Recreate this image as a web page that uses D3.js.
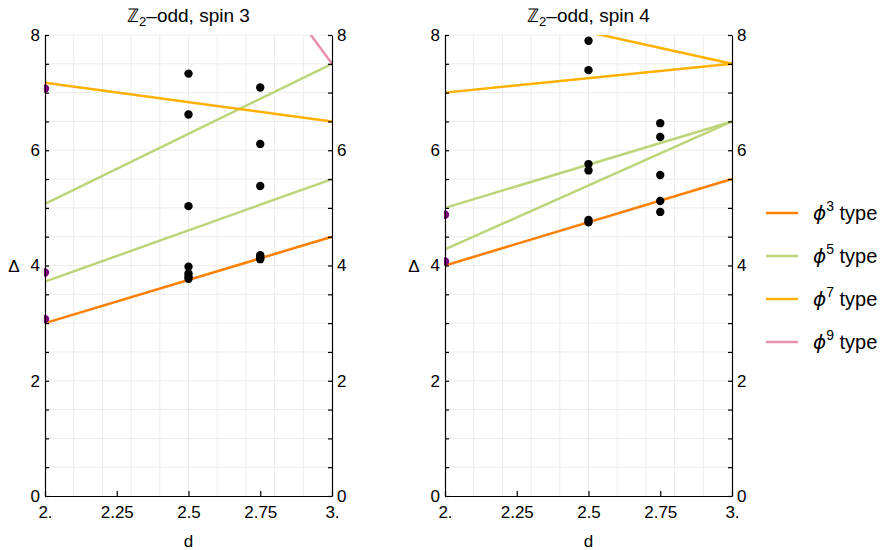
<!DOCTYPE html>
<html>
<head>
<meta charset="utf-8">
<script src="https://cdn.jsdelivr.net/npm/d3@7"></script>
<style>
  body { margin: 0; background: #fff; }
  svg { font-family: "Liberation Sans", Arial, sans-serif; }
</style>
</head>
<body>
<svg id="chart" width="889" height="550"></svg>
<script>
// Data
var typeNames = ["3", "5", "7", "9"];           // phi^n type
var typeColors = ["#ff7f00", "#bcd47a", "#ffb000", "#e890ae"];

var xTicks = [2, 2.25, 2.5, 2.75, 3];
var xTickLabels = ["2.", "2.25", "2.5", "2.75", "3."];
var yLabelTicks = [0, 2, 4, 6, 8];

// lines: [type index, d start, Δ start, d end, Δ end]
var spin3Lines = [
    [0, 2, 3.0, 3, 4.5],
    [1, 2, 3.72, 3, 5.5],
    [1, 2, 5.07, 3, 7.5],
    [2, 2, 7.17, 3, 6.5],
    [3, 2.9, 8.18, 3, 7.5]
];
var spin4Lines = [
    [0, 2, 4.0, 3, 5.5],
    [1, 2, 5.0, 3, 6.5],
    [1, 2, 4.28, 3, 6.5],
    [2, 2, 7.0, 3, 7.5],
    [2, 2.5, 8.05, 3, 7.5]
];

// purple points at d = 2
var spin3Free = [3.07, 3.88, 7.07];
var spin4Free = [4.07, 4.88];

// black points at d = 2.5 and d = 2.75
var spin3At25 = [7.33, 6.62, 5.03, 3.98, 3.86, 3.81, 3.77];
var spin3At275 = [7.09, 6.11, 5.38, 4.18, 4.14, 4.11];
var spin4At25 = [7.90, 7.39, 5.76, 5.65, 4.79, 4.75];
var spin4At275 = [6.47, 6.23, 5.57, 5.12, 4.93];

var panels = [
    { title: "spin 3", x0: 45, lines: spin3Lines, free: spin3Free, p25: spin3At25, p275: spin3At275 },
    { title: "spin 4", x0: 445, lines: spin4Lines, free: spin4Free, p25: spin4At25, p275: spin4At275 }
];

var plotW = 287;
var plotTop = 35, plotBottom = 496;

var svg = d3.select("#chart");

var yScale = d3.scaleLinear().domain([0, 8]).range([plotBottom, plotTop]);

panels.forEach(function(p, i) {
    var xScale = d3.scaleLinear().domain([2, 3]).range([p.x0, p.x0 + plotW]);
    var g = svg.append("g");

    var clipId = "clip" + i;
    svg.append("defs").append("clipPath").attr("id", clipId)
        .append("rect")
        .attr("x", p.x0 - 1).attr("y", plotTop)
        .attr("width", plotW + 2).attr("height", plotBottom - plotTop);

    // grid
    g.append("g").selectAll("line")
        .data(d3.range(1, 10).map(k => 2 + k / 10))
        .join("line")
        .attr("x1", d => xScale(d)).attr("x2", d => xScale(d))
        .attr("y1", plotTop).attr("y2", plotBottom)
        .attr("stroke", "#ececec").attr("stroke-width", 1);
    g.append("g").selectAll("line")
        .data(d3.range(1, 17).map(k => k / 2))
        .join("line")
        .attr("x1", xScale(2)).attr("x2", xScale(3))
        .attr("y1", d => yScale(d)).attr("y2", d => yScale(d))
        .attr("stroke", "#ececec").attr("stroke-width", 1);

    var plot = g.append("g").attr("clip-path", "url(#" + clipId + ")");

    var line = d3.line()
        .x(d => xScale(d[0]))
        .y(d => yScale(d[1]));

    plot.selectAll("path")
        .data(p.lines)
        .join("path")
        .attr("fill", "none")
        .attr("stroke", d => typeColors[d[0]])
        .attr("stroke-width", 2.5)
        .attr("d", d => line([[d[1], d[2]], [d[3], d[4]]]));

    var pts = p.p25.map(v => [2.5, v]).concat(p.p275.map(v => [2.75, v]));
    plot.selectAll("circle.black")
        .data(pts)
        .join("circle")
        .attr("class", "black")
        .attr("cx", d => xScale(d[0]))
        .attr("cy", d => yScale(d[1]))
        .attr("r", 4.2)
        .attr("fill", "#000");

    plot.selectAll("circle.free")
        .data(p.free)
        .join("circle")
        .attr("class", "free")
        .attr("cx", xScale(2))
        .attr("cy", d => yScale(d))
        .attr("r", 4.2)
        .attr("fill", "#800080");

    // axes
    var fmt = d => yLabelTicks.indexOf(d) >= 0 ? d3.format("d")(d) : "";
    var yTickVals = d3.range(0, 17).map(k => k / 2);

    var xAxis = d3.axisBottom(xScale)
        .tickValues(xTicks)
        .tickFormat((d, k) => xTickLabels[k])
        .tickSize(-5).tickSizeOuter(0).tickPadding(10);
    var yAxisL = d3.axisLeft(yScale)
        .tickValues(yTickVals).tickFormat(fmt)
        .tickSize(-4).tickSizeOuter(0).tickPadding(5);
    var yAxisR = d3.axisRight(yScale)
        .tickValues(yTickVals).tickFormat(fmt)
        .tickSize(-4).tickSizeOuter(0).tickPadding(5);

    [
        g.append("g").attr("transform", "translate(0," + plotBottom + ")").call(xAxis),
        g.append("g").attr("transform", "translate(" + p.x0 + ",0)").call(yAxisL),
        g.append("g").attr("transform", "translate(" + (p.x0 + plotW) + ",0)").call(yAxisR)
    ].forEach(function(a) {
        a.selectAll("text").attr("font-size", 17).attr("fill", "#000")
            .attr("font-family", "Liberation Sans, Arial, sans-serif");
        a.selectAll("path, line").attr("stroke", "#000").attr("stroke-width", 1.2);
    });

    // title
    var t = svg.append("text")
        .attr("x", xScale(2.5)).attr("y", 22)
        .attr("text-anchor", "middle")
        .attr("font-size", 19);
    t.append("tspan").text("\u2124");
    t.append("tspan").attr("font-size", 13).attr("dy", 4).text("2");
    t.append("tspan").attr("dy", -4).text("\u2013odd, " + p.title);

    // axis labels
    svg.append("text")
        .attr("x", xScale(2.5)).attr("y", 547)
        .attr("text-anchor", "middle").attr("font-size", 17)
        .text("d");
    svg.append("text")
        .attr("x", p.x0 - 31).attr("y", 272)
        .attr("text-anchor", "middle").attr("font-size", 17)
        .text("\u0394");
});

// legend
var legend = svg.append("g");
var legendY = d3.scaleLinear().domain([0, 3]).range([213, 342]);
typeNames.forEach(function(n, k) {
    var y = legendY(k);
    legend.append("line")
        .attr("x1", 766).attr("x2", 798)
        .attr("y1", y).attr("y2", y)
        .attr("stroke", typeColors[k]).attr("stroke-width", 2.5);
    var t = legend.append("text")
        .attr("x", 813).attr("y", y + 7)
        .attr("font-size", 20);
    t.append("tspan").attr("font-style", "italic").attr("font-family", "DejaVu Sans").text("\u03d5");
    t.append("tspan").attr("font-size", 14).attr("dy", -9).text(n);
    t.append("tspan").attr("dy", 9).text(" type");
});
</script>
</body>
</html>
